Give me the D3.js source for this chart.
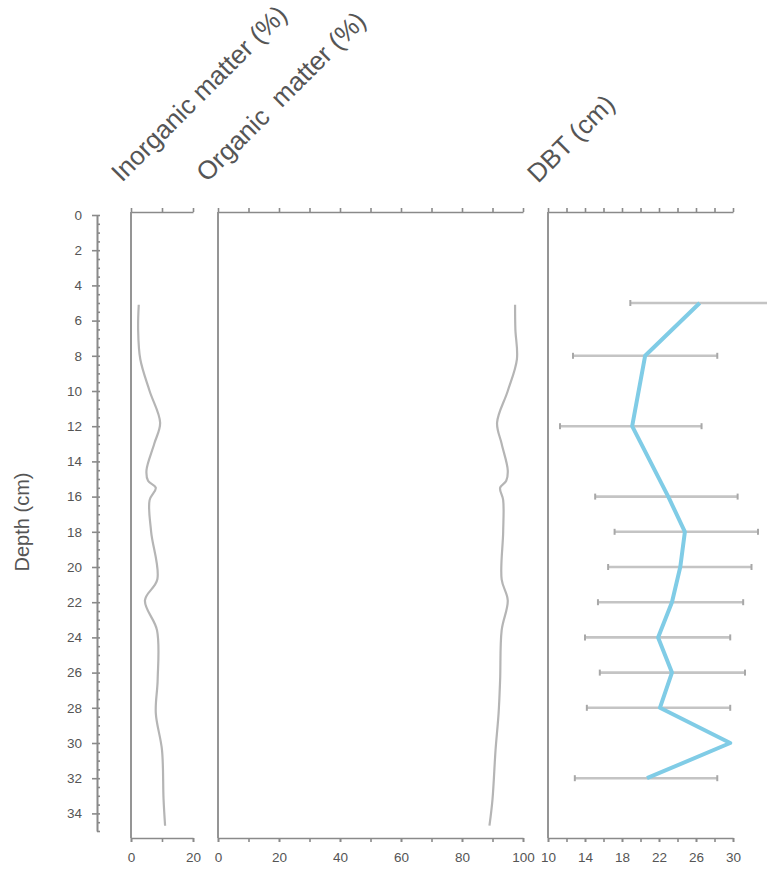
<!DOCTYPE html>
<html><head><meta charset="utf-8">
<script src="https://cdn.jsdelivr.net/npm/d3@7"></script>
<style>body{margin:0;background:#fff}svg{display:block}</style>
</head><body>
<script>
// ---- data ----
const inorgDepth = [5.1, 6.5, 8.2, 10, 11.8, 13, 14.5, 15.1, 15.5, 16.2, 18, 20.7, 21.9, 23.6, 26.4, 28.3, 30.4, 33.2, 34.7];
const inorgValue = [2.5, 2.3, 3.0, 6.0, 9.4, 7.5, 5.0, 5.5, 8.0, 6.0, 6.5, 8.5, 4.5, 8.4, 8.6, 8.0, 10.0, 10.5, 11.0];
const orgDepth   = [5.1, 6.5, 8.2, 10, 11.8, 13, 14.5, 15.1, 15.5, 16.2, 18, 20.7, 21.9, 23.6, 26.4, 28.3, 30.4, 33.2, 34.7];
const orgValue   = [97.4, 97.5, 98.0, 95.0, 91.5, 93.0, 95.0, 94.5, 92.5, 93.5, 93.5, 93.0, 95.0, 93.0, 92.5, 92.0, 91.0, 90.0, 89.0];
const dbtDepth = [5, 8, 12, 16, 18, 20, 22, 24, 26, 28, 30, 32];
const dbtMean  = [26.4, 20.5, 19.1, 23.0, 24.8, 24.3, 23.4, 21.9, 23.4, 22.1, 29.7, 20.7];
const dbtMin   = [18.9, 12.7, 11.3, 15.1, 17.2, 16.5, 15.4, 14.0, 15.6, 14.2, null, 12.9];
const dbtMax   = [34.2, 28.3, 26.6, 30.5, 32.7, 32.0, 31.1, 29.7, 31.3, 29.7, null, 28.3];
const depthTicks = d3.range(0, 35, 2);
const inorgTicks = [0, 20], orgTicks = [0, 20, 40, 60, 80, 100], dbtTicks = [10, 14, 18, 22, 26, 30];
const titles = ["Inorganic matter (%)", "Organic  matter (%)", "DBT (cm)"];

const W = 767, H = 873;
const svg = d3.select("body").append("svg").attr("width", W).attr("height", H)
  .style("font-family", "Liberation Sans, Arial, sans-serif");
const axisCol = "#8a8a8a", textCol = "#555";

const topY = 212, botY = 838;
const y = d3.scaleLinear().domain([0, 35]).range([215, 831]);
const xIn = d3.scaleLinear().domain([0, 20]).range([131, 193]);
const xOrg = d3.scaleLinear().domain([0, 100]).range([218, 523]);
const xDbt = d3.scaleLinear().domain([10, 30]).range([548, 733]);

function styleAxis(g) {
  g.selectAll("path,line").attr("stroke", axisCol).attr("stroke-width", 1.6);
  g.selectAll("text").attr("fill", textCol).style("font-size", "13.5px");
}

// depth axis
const dA = svg.append("g").attr("transform", "translate(97,0)")
  .call(d3.axisLeft(y).tickValues(depthTicks).tickSize(5).tickSizeOuter(0).tickPadding(10));
styleAxis(dA);
svg.append("g").attr("transform", "translate(97,0)")
  .call(d3.axisRight(y).tickValues(d3.range(0, 35.01, 0.5)).tickSize(3).tickFormat("").tickSizeOuter(0))
  .call(styleAxis);
svg.append("text").attr("transform", "translate(29,522) rotate(-90)")
  .attr("text-anchor", "middle").attr("fill", textCol).style("font-size", "20px").text("Depth (cm)");

// panel frames
function panel(x, minorStep, labels, title, ta) {
  const [d0, d1] = x.domain();
  const minor = d3.range(d0, d1 + 0.001, minorStep);
  svg.append("line").attr("x1", x.range()[0]).attr("x2", x.range()[0])
    .attr("y1", topY).attr("y2", botY).attr("stroke", axisCol).attr("stroke-width", 1.8);
  svg.append("g").attr("transform", `translate(0,${topY})`)
    .call(d3.axisTop(x).tickValues(minor).tickSize(4).tickFormat("").tickSizeOuter(0)).call(styleAxis);
  svg.append("g").attr("transform", `translate(0,${botY})`)
    .call(d3.axisBottom(x).tickValues(minor).tickSize(4).tickFormat("").tickSizeOuter(0)).call(styleAxis);
  svg.append("g").attr("transform", `translate(0,${botY})`)
    .call(d3.axisBottom(x).tickValues(labels).tickSize(4).tickPadding(10).tickSizeOuter(0)).call(styleAxis)
    .call(g => g.select(".domain").remove());
  svg.append("text").attr("transform", `translate(${ta[0]},${ta[1]}) rotate(-45)`)
    .attr("fill", textCol).style("font-size", "26px").style("white-space", "pre").text(title);
}
panel(xIn, 10, inorgTicks, titles[0], [122, 183]);
panel(xOrg, 10, orgTicks, titles[1], [207, 183]);
panel(xDbt, 2, dbtTicks, titles[2], [538, 184]);

// curves
const lineIn = d3.line().x(d => xIn(d[1])).y(d => y(d[0])).curve(d3.curveCatmullRom);
svg.append("path").datum(d3.zip(inorgDepth, inorgValue)).attr("d", lineIn)
  .attr("fill", "none").attr("stroke", "#b5b5b5").attr("stroke-width", 2.2);
const lineOrg = d3.line().x(d => xOrg(d[1])).y(d => y(d[0])).curve(d3.curveCatmullRom);
svg.append("path").datum(d3.zip(orgDepth, orgValue)).attr("d", lineOrg)
  .attr("fill", "none").attr("stroke", "#b5b5b5").attr("stroke-width", 2.2);

// DBT error bars
const dbt = dbtDepth.map((d, i) => ({d, m: dbtMean[i], lo: dbtMin[i], hi: dbtMax[i]}));
const eb = svg.append("g").selectAll("g").data(dbt.filter(e => e.lo != null)).join("g");
eb.append("line").attr("x1", e => xDbt(e.lo)).attr("x2", e => xDbt(e.hi))
  .attr("y1", e => y(e.d)).attr("y2", e => y(e.d)).attr("stroke", "#c4c4c4").attr("stroke-width", 2.6);
eb.append("line").attr("x1", e => xDbt(e.lo)).attr("x2", e => xDbt(e.lo))
  .attr("y1", e => y(e.d) - 3).attr("y2", e => y(e.d) + 3).attr("stroke", "#a8a8a8").attr("stroke-width", 2);
eb.append("line").attr("x1", e => xDbt(e.hi)).attr("x2", e => xDbt(e.hi))
  .attr("y1", e => y(e.d) - 3).attr("y2", e => y(e.d) + 3).attr("stroke", "#a8a8a8").attr("stroke-width", 2);
svg.append("path").datum(dbt).attr("d", d3.line().x(e => xDbt(e.m)).y(e => y(e.d)))
  .attr("fill", "none").attr("stroke", "#80cce6").attr("stroke-width", 4).attr("stroke-linejoin", "round");
</script>
</body></html>
